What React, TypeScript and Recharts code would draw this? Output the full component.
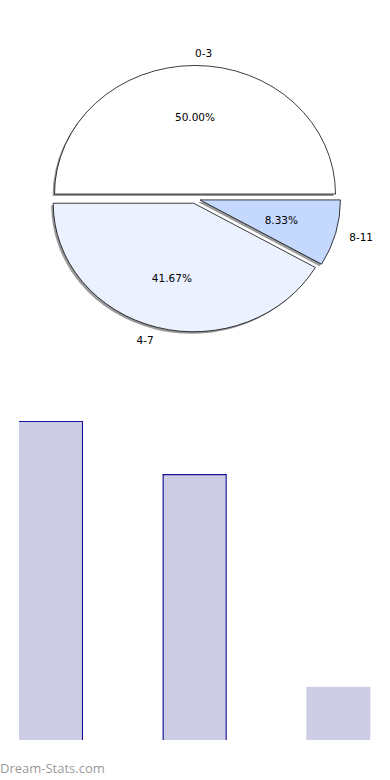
import React from 'react';
import { PieChart, Pie, Cell, Sector, BarChart, Bar, XAxis, YAxis } from 'recharts';

const ageGroups = ['0-3', '4-7', '8-11'];
const counts = [6, 5, 1];
const sliceColors = ['#FFFFFF', '#EBF1FE', '#C5D9FE'];

const pieData = ageGroups.map((name, i) => ({ name, value: counts[i] }));
const barData = ageGroups.map((name, i) => ({ name, value: counts[i] }));

const K = 0.915;
const EXPLODE = 5.1;
const SHADOW_DX = -2;
const SHADOW_DY = 2;
const FONT = "'DejaVu Sans', sans-serif";

const barEdges: string[][] = [['top', 'right'], ['top', 'left', 'right'], []];
const BAR_FILL = '#CCCCE4';
const BAR_STROKE = '#14149a';

function ellipseTransform(cx: number, cy: number, dx: number, dy: number, sx = 0, sy = 0) {
  return `translate(${sx},${sy}) translate(${cx},${cy}) scale(1,${K}) translate(${-cx},${-cy}) translate(${dx},${dy})`;
}

const SliceShape = (props: any) => {
  const { cx, cy, midAngle } = props;
  const rad = (midAngle * Math.PI) / 180;
  const dx = Math.cos(rad) * EXPLODE;
  const dy = -Math.sin(rad) * EXPLODE;
  return (
    <g>
      <g transform={ellipseTransform(cx, cy, dx, dy, SHADOW_DX, SHADOW_DY)}>
        <Sector {...props} fill="#9a9a9a" stroke="none" />
      </g>
      <g transform={ellipseTransform(cx, cy, dx, dy)}>
        <Sector {...props} stroke="#000" strokeWidth={0.8} />
      </g>
    </g>
  );
};

const renderLabel = (props: any) => {
  const { cx, cy, midAngle, outerRadius, percent, index } = props;
  const rad = (midAngle * Math.PI) / 180;
  const c = Math.cos(rad);
  const s = Math.sin(rad);
  const ro = EXPLODE + 1.1 * outerRadius;
  const ri = EXPLODE + 0.6 * outerRadius;
  return (
    <g>
      <text
        x={cx + c * ro}
        y={cy - s * ro * K}
        textAnchor={c > 0 ? 'start' : 'end'}
        dominantBaseline="central"
        fontFamily={FONT}
        fontSize={10.5}
        fill="#000"
      >
        {ageGroups[index]}
      </text>
      <text
        x={cx + c * ri}
        y={cy - s * ri * K}
        textAnchor="middle"
        dominantBaseline="central"
        fontFamily={FONT}
        fontSize={10.5}
        fill="#000"
      >
        {(percent * 100).toFixed(2)}%
      </text>
    </g>
  );
};

const BarShape = (props: any) => {
  const { x, y, width, height, index } = props;
  const edges = barEdges[index] || [];
  const l = x + 0.5;
  const r = x + width - 0.5;
  const t = y + 0.5;
  const b = y + height;
  return (
    <g>
      <rect x={x} y={y} width={width} height={height} fill={BAR_FILL} />
      {edges.includes('top') && <line x1={x} x2={x + width} y1={t} y2={t} stroke={BAR_STROKE} strokeWidth={1.1} />}
      {edges.includes('left') && <line x1={l} x2={l} y1={y} y2={b} stroke={BAR_STROKE} strokeWidth={1.1} />}
      {edges.includes('right') && <line x1={r} x2={r} y1={y} y2={b} stroke={BAR_STROKE} strokeWidth={1.1} />}
    </g>
  );
};

export default function App() {
  return (
    <div style={{ position: 'absolute', left: 0, top: 0, width: 390, height: 780, overflow: 'hidden', background: '#fff' }}>
      <div style={{ position: 'absolute', left: 0, top: 0 }}>
        <PieChart width={390} height={390} margin={{ top: 0, right: 0, bottom: 0, left: 0 }}>
          <Pie
            data={pieData}
            dataKey="value"
            nameKey="name"
            cx={195}
            cy={198.7}
            outerRadius={140.5}
            startAngle={0}
            endAngle={360}
            shape={SliceShape}
            label={renderLabel}
            labelLine={false}
            isAnimationActive={false}
          >
            {pieData.map((d, i) => (
              <Cell key={d.name} fill={sliceColors[i]} />
            ))}
          </Pie>
        </PieChart>
      </div>
      <div style={{ position: 'absolute', left: -21, top: 410 }}>
        <BarChart width={431} height={340} data={barData} margin={{ top: 11, right: 0, bottom: 10, left: 0 }} barSize={64}>
          <XAxis dataKey="name" hide />
          <YAxis hide domain={[0, 6]} />
          <Bar dataKey="value" fill={BAR_FILL} shape={BarShape} isAnimationActive={false} />
        </BarChart>
      </div>
      <div
        style={{
          position: 'absolute',
          left: 0,
          top: 760,
          fontFamily: "'Open Sans', sans-serif",
          fontWeight: 400,
          fontSize: 13,
          color: '#9a9a9a',
          lineHeight: '16px',
          whiteSpace: 'nowrap',
        }}
      >
        Dream-Stats.com
      </div>
    </div>
  );
}
